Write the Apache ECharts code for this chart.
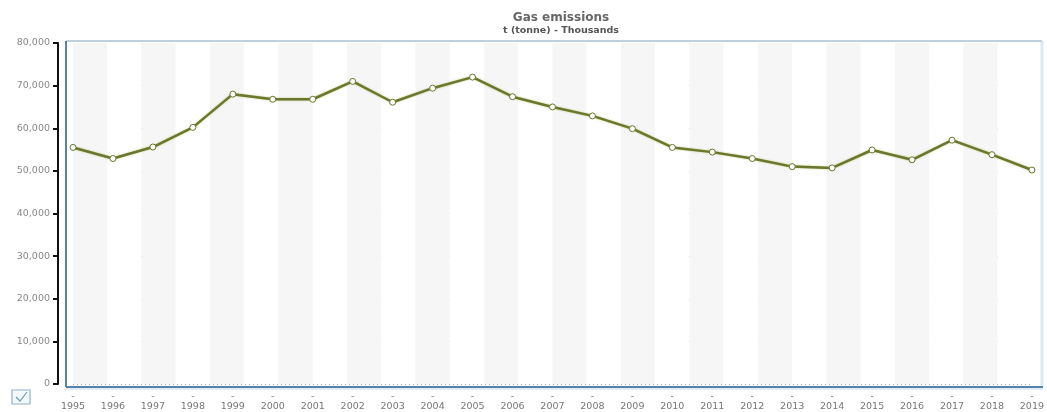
<!DOCTYPE html>
<html>
<head>
<meta charset="utf-8">
<script src="https://cdn.jsdelivr.net/npm/echarts@6/dist/echarts.min.js"></script>
<style>
html,body{margin:0;padding:0;background:#fff;}
#c{width:1047px;height:412px;}
</style>
</head>
<body>
<div id="c"></div>
<script>
var years = ['1995','1996','1997','1998','1999','2000','2001','2002','2003','2004','2005','2006','2007','2008','2009','2010','2011','2012','2013','2014','2015','2016','2017','2018','2019'];
var emissions = [55500,52900,55600,60200,68000,66800,66800,71000,66100,69400,72000,67400,65000,62900,59900,55500,54400,52900,51000,50700,54900,52600,57200,53800,50200];
var yTicks = [0,10000,20000,30000,40000,50000,60000,70000,80000];

var chart = echarts.init(document.getElementById('c'), null, {renderer:'canvas'});
var F = 'DejaVu Sans';
chart.setOption({
  animation:false,
  backgroundColor:'#fff',
  title:{
    text:'Gas emissions',
    subtext:'t (tonne) - Thousands',
    left:556, top:7, textAlign:'center',
    itemGap:2,
    textStyle:{fontFamily:F,fontSize:12,fontWeight:'bold',color:'#666'},
    subtextStyle:{fontFamily:F,fontSize:9.5,fontWeight:'bold',color:'#555'}
  },
  grid:{left:73,right:7,top:43,bottom:27,containLabel:false},
  xAxis:[{
    type:'category',
    data:years,
    boundaryGap:false,
    axisLine:{show:false},
    axisTick:{show:false},
    splitLine:{show:false},
    axisLabel:{
      interval:0,margin:8,
      fontFamily:F,fontSize:9.5,color:'#777',lineHeight:10,
      formatter:function(v){return '-\n'+v;}
    }
  },{
    type:'value',
    position:'top',
    min:0,max:28,interval:1,
    axisLine:{show:false,onZero:false},axisTick:{show:false},axisLabel:{show:false},
    splitLine:{show:false},
    splitArea:{show:true,areaStyle:{color:['#f6f6f6','#ffffff']}}
  }],
  yAxis:{
    type:'value',
    min:yTicks[0],max:yTicks[yTicks.length-1],interval:10000,
    offset:15,
    axisLine:{show:true,onZero:false,lineStyle:{color:'#111',width:2}},
    axisTick:{show:true,length:5,lineStyle:{color:'#111',width:2}},
    axisLabel:{margin:8,fontFamily:F,fontSize:9.5,color:'#888',
      formatter:function(v){return v===0?'0':echarts.format.addCommas(v);}},
    splitLine:{show:true,lineStyle:{color:'#aaa',type:[1,3],width:1}}
  },
  graphic:[
    {type:'rect',shape:{x:66,y:41,width:976,height:346},style:{fill:'none',stroke:'#c4dcea',lineWidth:1},z:-1,silent:true},
    {type:'line',shape:{x1:1042,y1:41,x2:1042,y2:387},style:{stroke:'#d8eaf5',lineWidth:3},z:10,silent:true},
    {type:'line',shape:{x1:66,y1:41,x2:1042,y2:41},style:{stroke:'#9fb3c4',lineWidth:1},z:10,silent:true},
    {type:'line',shape:{x1:66,y1:41,x2:66,y2:387},style:{stroke:'#5683aa',lineWidth:2},z:10,silent:true},
    {type:'line',shape:{x1:66,y1:387,x2:1043,y2:387},style:{stroke:'#5683aa',lineWidth:2},z:10,silent:true},
    {type:'line',shape:{x1:66,y1:389,x2:1043,y2:389},style:{stroke:'#c4dcea',lineWidth:1},z:10,silent:true},
    {type:'rect',shape:{x:12,y:390,width:18,height:14},style:{fill:'#f4f9fc',stroke:'#8fb1c9',lineWidth:1.2},z:10,silent:true},
    {type:'polyline',shape:{points:[[16,397],[20,401],[27,392]]},style:{fill:'none',stroke:'#6f9bbb',lineWidth:1.2},z:10,silent:true}
  ],
  series:[{
    type:'line',
    data:emissions,
    xAxisIndex:0,
    symbol:'circle',
    symbolSize:6,
    showAllSymbol:true,
    lineStyle:{color:'#6b772c',width:2.5,shadowColor:'rgba(170,170,80,0.7)',shadowBlur:2},
    itemStyle:{color:'#ffffff',borderColor:'#6b772c',borderWidth:1},
    z:5
  }]
});
</script>
</body>
</html>
